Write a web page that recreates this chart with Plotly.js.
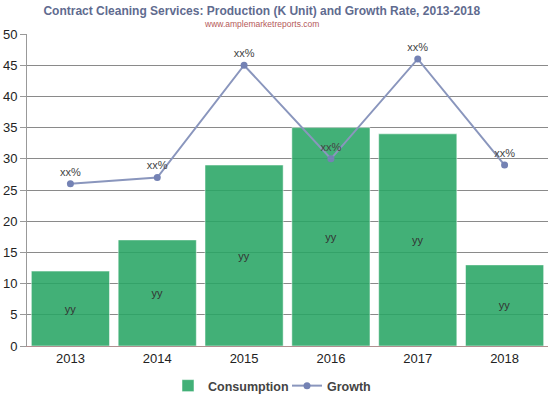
<!DOCTYPE html>
<html>
<head>
<meta charset="utf-8">
<script src="https://cdn.plot.ly/plotly-3.0.1.min.js"></script>
<style>html,body{margin:0;padding:0;background:#fff;}#chart{width:557px;height:395px;}</style>
</head>
<body>
<div id="chart"></div>
<script>
var years = ['2013', '2014', '2015', '2016', '2017', '2018'];
var consumption = [12, 17, 29, 35, 34, 13];
var growth = [26, 27, 45, 30, 46, 29];
var barLabels = ['yy', 'yy', 'yy', 'yy', 'yy', 'yy'];
var growthLabels = ['xx%', 'xx%', 'xx%', 'xx%', 'xx%', 'xx%'];

var font = 'Liberation Sans, Arial, sans-serif';

var traces = [
  {
    type: 'bar', name: 'Consumption', x: years, y: consumption,
    text: barLabels, textposition: 'inside', insidetextanchor: 'middle',
    textfont: {family: font, size: 11, color: '#333'},
    marker: {color: 'rgba(40,165,100,0.88)', line: {color: 'rgba(255,255,255,0.5)', width: 1}},
    hoverinfo: 'none', legend: 'legend'
  },
  {
    type: 'scatter', mode: 'lines+markers+text', name: 'Growth', x: years, y: growth,
    text: growthLabels, textposition: 'top center',
    textfont: {family: font, size: 11, color: '#444'},
    line: {color: '#8a96bd', width: 2},
    marker: {color: '#7482b4', size: 7},
    hoverinfo: 'none', legend: 'legend2'
  }
];

var legFont = {family: font, size: 12.5, color: '#444', weight: 'bold'};
var layout = {
  width: 557, height: 395,
  margin: {l: 27, r: 9, t: 34, b: 49, autoexpand: false},
  paper_bgcolor: '#fff', plot_bgcolor: '#fff',
  font: {family: font, size: 13, color: '#222'},
  bargap: 0.1,
  showlegend: true,
  legend: {orientation: 'h', xref: 'container', yref: 'container', x: 168 / 557, xanchor: 'left',
    y: 9 / 395, yanchor: 'middle', itemwidth: 30, font: legFont, bgcolor: 'rgba(0,0,0,0)'},
  legend2: {orientation: 'h', xref: 'container', yref: 'container', x: 287 / 557, xanchor: 'left',
    y: 9 / 395, yanchor: 'middle', itemwidth: 30, font: legFont, bgcolor: 'rgba(0,0,0,0)'},
  title: {text: '<b>Contract Cleaning Services: Production (K Unit) and Growth Rate, 2013-2018</b>',
    font: {family: font, size: 12, color: '#5f6b8f'}, x: 0.47, xanchor: 'center', y: 0.972, yanchor: 'middle'},
  annotations: [{text: 'www.amplemarketreports.com', xref: 'paper', yref: 'paper', x: 0.451, y: 1.032,
    xanchor: 'center', yanchor: 'middle', showarrow: false, font: {family: font, size: 8.5, color: '#b55a5a'}}],
  xaxis: {type: 'category', showline: true, linecolor: '#b09090', linewidth: 1,
    ticks: '', tickfont: {family: font, size: 13, color: '#222'}, showgrid: false, fixedrange: true},
  yaxis: {range: [0, 50], dtick: 5, showline: true, linecolor: '#999', linewidth: 1,
    ticks: 'outside', ticklen: 6, tickcolor: '#999', gridcolor: '#8a8a8a', gridwidth: 1,
    zeroline: false, tickfont: {family: font, size: 13, color: '#222'}, fixedrange: true}
};

Plotly.newPlot('chart', traces, layout, {displayModeBar: false, staticPlot: true});
</script>
</body>
</html>
